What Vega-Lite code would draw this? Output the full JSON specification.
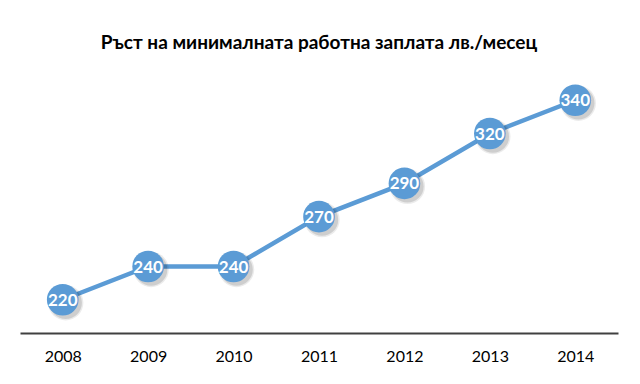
{
  "$schema": "https://vega.github.io/schema/vega-lite/v6.json",
  "width": 598,
  "height": 266,
  "autosize": {"type": "none"},
  "padding": {"left": 20, "top": 67, "right": 22, "bottom": 51},
  "background": "white",
  "title": {
    "text": "Ръст на минималната работна заплата лв./месец",
    "font": "Lato",
    "fontSize": 19,
    "fontWeight": "bold",
    "color": "#000000",
    "anchor": "middle",
    "offset": 14
  },
  "config": {"view": {"stroke": null}},
  "data": {
    "values": [
      {"year": "2008", "value": 220},
      {"year": "2009", "value": 240},
      {"year": "2010", "value": 240},
      {"year": "2011", "value": 270},
      {"year": "2012", "value": 290},
      {"year": "2013", "value": 320},
      {"year": "2014", "value": 340}
    ]
  },
  "encoding": {
    "x": {
      "field": "year",
      "type": "ordinal",
      "scale": {"paddingInner": 0, "paddingOuter": 0.5},
      "axis": {
        "title": null,
        "labelAngle": 0,
        "labelFont": "Lato",
        "labelFontSize": 16,
        "labelColor": "#000000",
        "labelPadding": 15,
        "ticks": false,
        "domainColor": "#404040",
        "domainWidth": 2,
        "grid": false
      }
    },
    "y": {
      "field": "value",
      "type": "quantitative",
      "scale": {"domain": [200, 360], "nice": false, "zero": false},
      "axis": null
    }
  },
  "layer": [
    {"mark": {"type": "line", "color": "#5b9bd5", "strokeWidth": 4.5}},
    {
      "mark": {"type": "circle", "color": "#000000", "opacity": 0.08, "size": 1250},
      "encoding": {"xOffset": {"value": 3}, "yOffset": {"value": 3}}
    },
    {
      "mark": {"type": "circle", "color": "#000000", "opacity": 0.12, "size": 1050},
      "encoding": {"xOffset": {"value": 3}, "yOffset": {"value": 3}}
    },
    {"mark": {"type": "circle", "color": "#5b9bd5", "opacity": 1, "size": 1000}},
    {
      "mark": {"type": "text", "color": "white", "font": "Lato", "fontSize": 17, "fontWeight": "bold", "baseline": "middle", "dy": 1},
      "encoding": {"text": {"field": "value", "type": "quantitative"}}
    }
  ]
}
